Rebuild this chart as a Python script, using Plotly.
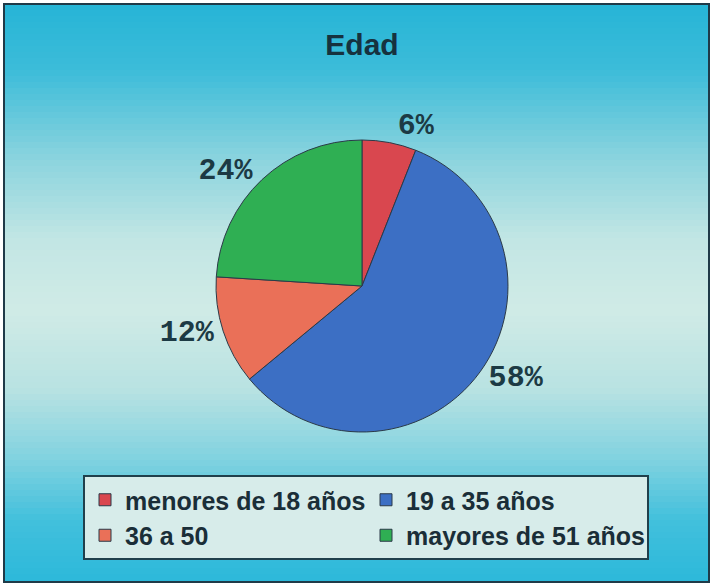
import plotly.graph_objects as go

categories = ["menores de 18 años", "19 a 35 años", "36 a 50", "mayores de 51 años"]
values = [6, 58, 12, 24]
slice_colors = ["#d9474f", "#3c6fc4", "#ea7058", "#2faf53"]
title_text = "Edad"

W, H = 713, 587

# background gradient stops (pixel y from top, colour)
grad_stops = [
    (0, (37, 180, 214)),
    (70, (60, 188, 217)),
    (160, (140, 212, 222)),
    (240, (194, 230, 228)),
    (310, (208, 235, 230)),
    (390, (184, 226, 226)),
    (460, (128, 210, 224)),
    (520, (66, 192, 220)),
    (587, (42, 184, 218)),
]

def color_at(y):
    for (y0, c0), (y1, c1) in zip(grad_stops[:-1], grad_stops[1:]):
        if y0 <= y <= y1:
            t = (y - y0) / (y1 - y0)
            return "rgb(%d,%d,%d)" % tuple(round(a + (b - a) * t) for a, b in zip(c0, c1))
    return "rgb(%d,%d,%d)" % grad_stops[-1][1]

FX0, FX1, FY0, FY1 = 4, 709, 4, 582
shapes = []
step = 6
for y in range(FY0, FY1, step):
    y2 = min(y + step + 1, FY1)
    shapes.append(dict(type="rect", xref="paper", yref="paper", layer="below",
                       x0=FX0 / W, x1=FX1 / W, y0=1 - y2 / H, y1=1 - y / H,
                       line=dict(width=0), fillcolor=color_at(y + step / 2)))
# frame
shapes.append(dict(type="rect", xref="paper", yref="paper", layer="below",
                   x0=FX0 / W, x1=FX1 / W, y0=1 - FY1 / H, y1=1 - FY0 / H,
                   line=dict(color="#1f3a48", width=2), fillcolor="rgba(0,0,0,0)"))

cx, cy, r = 362, 286, 146

fig = go.Figure(go.Pie(
    labels=categories, values=values, sort=False, direction="clockwise", rotation=0,
    marker=dict(colors=slice_colors, line=dict(color="#2b3a48", width=1)),
    texttemplate="%{percent:.0%}", textposition="outside",
    textfont=dict(family="Liberation Mono", size=30, color="#1c3a44", weight="bold"),
    domain=dict(x=[(cx - r) / W, (cx + r) / W], y=[1 - (cy + r) / H, 1 - (cy - r) / H]),
    showlegend=True, hoverinfo="label+percent",
))

fig.update_layout(
    width=W, height=H, margin=dict(l=0, r=0, t=0, b=0),
    paper_bgcolor="#ffffff", plot_bgcolor="rgba(0,0,0,0)",
    shapes=shapes,
    title=dict(text="<b>%s</b>" % title_text, x=362 / W, xanchor="center",
               y=1 - 44 / H, yanchor="middle",
               font=dict(family="Liberation Sans, Arial", size=30, color="#16323f")),
    legend=dict(orientation="h", x=83 / W, y=1 - 475 / H, xanchor="left", yanchor="top",
                bgcolor="#d7ecea", bordercolor="#20404c", borderwidth=2,
                entrywidth=236, entrywidthmode="pixels", traceorder="normal",
                font=dict(family="Liberation Sans, Arial", size=25, color="#1a2e38", weight="bold")),
)

fig.write_html("out.html", config={"displayModeBar": False},
               post_script="document.body.style.margin='0';")
